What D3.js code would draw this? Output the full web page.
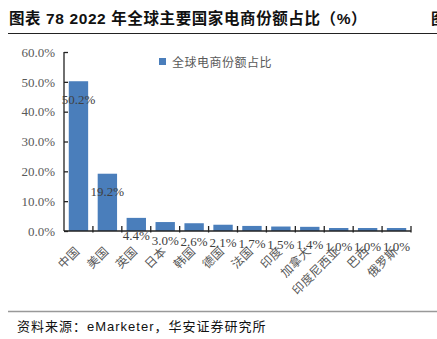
<!DOCTYPE html>
<html><head><meta charset="utf-8">
<script src="https://cdn.jsdelivr.net/npm/d3@7"></script>
<style>
html,body{margin:0;padding:0;background:#fff;}
svg{display:block;}
</style></head>
<body>
<script>
const categories = ["中国","美国","英国","日本","韩国","德国","法国","印度","加拿大","印度尼西亚","巴西","俄罗斯"];
const shareValues = [50.2,19.2,4.4,3.0,2.6,2.1,1.7,1.5,1.4,1.0,1.0,1.0];
const yTickValues = [0,10,20,30,40,50,60];
const seriesName = "全球电商份额占比";
const titleText = "图表 78 2022 年全球主要国家电商份额占比（%）";
const sourceText = "资料来源：eMarketer，华安证券研究所";

const W = 437, H = 339;
const svg = d3.select("body").append("svg").attr("width", W).attr("height", H);

const cjk = "'Noto Sans CJK SC', sans-serif";
const serif = "'Liberation Serif', 'Times New Roman', serif";

// title
svg.append("text").attr("x", 9).attr("y", 24)
  .attr("font-family", "'Liberation Sans', " + cjk).attr("font-weight", "bold")
  .attr("font-size", 15.5).attr("letter-spacing", 0.6).attr("fill", "#111").text(titleText);
svg.append("text").attr("x", 431).attr("y", 24)
  .attr("font-family", cjk).attr("font-weight", "bold")
  .attr("font-size", 15).attr("fill", "#111").text("图");
svg.append("line").attr("x1", 8).attr("x2", W).attr("y1", 33.5).attr("y2", 33.5)
  .attr("stroke", "#222").attr("stroke-width", 1.2);

// footer
svg.append("line").attr("x1", 8).attr("x2", W).attr("y1", 311.5).attr("y2", 311.5)
  .attr("stroke", "#999").attr("stroke-width", 1.5);
svg.append("text").attr("x", 17).attr("y", 331)
  .attr("font-family", "'Liberation Sans', " + cjk)
  .attr("font-size", 13).attr("letter-spacing", 1).attr("fill", "#111").text(sourceText);

const x0 = 64, x1 = 411, yTop = 52, yBot = 231;
const x = d3.scaleBand().domain(categories).range([x0, x1]).paddingInner(0.33).paddingOuter(0.165);
const y = d3.scaleLinear().domain([0, 60]).range([yBot, yTop]);

// bars
svg.append("g").selectAll("rect").data(shareValues).join("rect")
  .attr("x", (d, i) => x(categories[i]))
  .attr("width", x.bandwidth())
  .attr("y", d => y(d))
  .attr("height", d => y(0) - y(d))
  .attr("fill", "#4a7ebb");

// y axis
const yAxis = svg.append("g").attr("transform", `translate(${x0},0)`)
  .call(d3.axisLeft(y).tickValues(yTickValues).tickSize(-4).tickPadding(9)
    .tickFormat(d => d.toFixed(1) + "%"));
yAxis.select(".domain").attr("stroke", "#222").attr("stroke-width", 1.3).attr("d", `M0,${yTop}V${yBot}`);
yAxis.selectAll(".tick line").attr("stroke", "#222").attr("stroke-width", 1.3);
yAxis.selectAll(".tick text").attr("font-family", serif).attr("font-size", 13).attr("fill", "#595959");

// x axis line and boundary ticks
const step = x.step();
const bounds = d3.range(categories.length + 1).map(i => x0 + i * step);
svg.append("line").attr("x1", x0).attr("x2", x1).attr("y1", yBot).attr("y2", yBot)
  .attr("stroke", "#222").attr("stroke-width", 1.3);
svg.append("g").selectAll("line").data(bounds.slice(1)).join("line")
  .attr("x1", d => d).attr("x2", d => d).attr("y1", yBot - 5).attr("y2", yBot + 1.5)
  .attr("stroke", "#222").attr("stroke-width", 1.3);

// x labels
svg.append("g").selectAll("text").data(categories).join("text")
  .attr("transform", d => `translate(${x(d) + x.bandwidth() / 2 - 1},${yBot + 18}) rotate(-45)`)
  .attr("text-anchor", "end").attr("dy", "0.35em")
  .attr("font-family", cjk).attr("font-size", 12).attr("letter-spacing", 0.3).attr("fill", "#595959")
  .text(d => d);

// value labels
svg.append("g").selectAll("text").data(shareValues).join("text")
  .attr("x", (d, i) => x(categories[i]) + x.bandwidth() / 2)
  .attr("y", d => y(d) + 18)
  .attr("text-anchor", "middle").attr("dominant-baseline", "central")
  .attr("font-family", serif).attr("font-size", 13).attr("fill", "#404040")
  .text(d => d.toFixed(1) + "%");

// legend
svg.append("rect").attr("x", 159).attr("y", 58).attr("width", 7).attr("height", 7).attr("fill", "#4a7ebb");
svg.append("text").attr("x", 172).attr("y", 61.5).attr("dominant-baseline", "central")
  .attr("font-family", cjk).attr("font-size", 12).attr("letter-spacing", 0.5).attr("fill", "#595959").text(seriesName);
</script>
</body></html>
